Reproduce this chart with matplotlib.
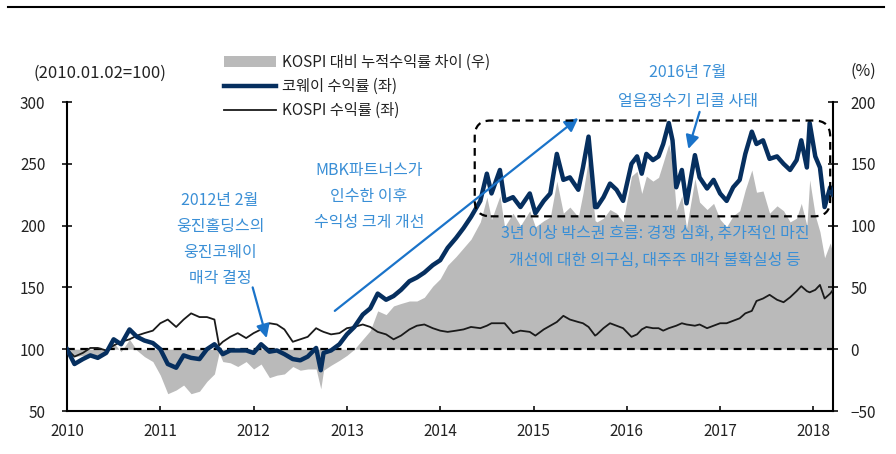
"""
Coway vs KOSPI cumulative return (2010.01.02 = 100)
"""
import matplotlib
matplotlib.use("Agg")
import numpy as np
import matplotlib.pyplot as plt
from matplotlib.lines import Line2D
from matplotlib.patches import FancyBboxPatch, Patch
from matplotlib.transforms import IdentityTransform

plt.rcParams['font.family'] = ['Noto Sans CJK KR', 'DejaVu Sans']
plt.rcParams['axes.unicode_minus'] = True

# decimal-year dates and index levels
dates = [
    2010.00, 2010.08, 2010.17, 2010.25, 2010.33, 2010.42, 2010.50, 2010.58, 2010.67, 2010.75, 2010.83, 2010.92,
    2011.00, 2011.08, 2011.17, 2011.25, 2011.33, 2011.42, 2011.50, 2011.58, 2011.63, 2011.67, 2011.75, 2011.83, 2011.92,
    2012.00, 2012.08, 2012.17, 2012.25, 2012.33, 2012.42, 2012.50, 2012.58, 2012.67, 2012.72, 2012.75, 2012.83, 2012.92,
    2013.00, 2013.08, 2013.17, 2013.25, 2013.33, 2013.42, 2013.50, 2013.58, 2013.67, 2013.75, 2013.83, 2013.92,
    2014.00, 2014.08, 2014.17, 2014.25, 2014.33, 2014.43, 2014.50, 2014.55, 2014.64, 2014.69, 2014.78, 2014.86, 2014.96,
    2015.02, 2015.11, 2015.18, 2015.25, 2015.32, 2015.39, 2015.48, 2015.53, 2015.59, 2015.66, 2015.68, 2015.75, 2015.82, 2015.89, 2015.96,
    2016.05, 2016.11, 2016.16, 2016.21, 2016.28, 2016.34, 2016.39, 2016.45, 2016.49, 2016.53, 2016.59, 2016.64, 2016.73, 2016.78, 2016.86, 2016.93,
    2017.00, 2017.07, 2017.14, 2017.21, 2017.27, 2017.34, 2017.39, 2017.46, 2017.53, 2017.61, 2017.68, 2017.75, 2017.82, 2017.87, 2017.93, 2017.96,
    2018.02, 2018.07, 2018.12, 2018.18, 2018.21,
]
coway = [
    100, 88, 92, 95, 93, 97, 108, 104, 116, 110, 107, 105,
    100, 88, 85, 95, 93, 92, 100, 104, 100, 96, 99, 99, 99,
    97, 104, 98, 99, 96, 92, 91, 94, 101, 83, 97, 99, 104,
    112, 118, 128, 133, 145, 140, 143, 148, 155, 158, 162, 168,
    172, 182, 190, 198, 207, 220, 242, 226, 245, 220, 223, 215, 226,
    210, 220, 226, 258, 237, 239, 229, 247, 272, 215, 215, 223, 234, 229, 220,
    250, 256, 242, 258, 253, 256, 266, 283, 269, 231, 245, 218, 257, 239, 230, 237,
    226, 220, 231, 237, 258, 276, 266, 269, 254, 256, 250, 245, 253, 269, 247, 283,
    256, 247, 215, 231, 225,
]
kospi = [
    100, 94, 97, 101, 101, 99, 103, 106, 108, 111, 113, 115,
    121, 124, 118, 124, 129, 126, 126, 124, 103, 106, 110, 113, 109,
    113, 116, 121, 120, 116, 106, 108, 110, 117, 115, 114, 112, 113,
    117, 118, 120, 118, 114, 112, 108, 111, 116, 119, 120, 117,
    115, 114, 115, 116, 118, 117, 119, 121, 121, 121, 113, 115, 114,
    111, 116, 119, 122, 127, 124, 122, 121, 118, 111, 112, 117, 121, 119, 117,
    110, 112, 116, 118, 117, 117, 115, 117, 118, 119, 121, 120, 119, 120, 117, 119,
    121, 121, 123, 125, 129, 131, 139, 141, 144, 140, 138, 142, 147, 151, 147, 146,
    148, 152, 141, 145, 148,
]
years = [2010, 2011, 2012, 2013, 2014, 2015, 2016, 2017, 2018]

dates = np.array(dates)
coway = np.array(coway)
kospi = np.array(kospi)
gap = coway - kospi  # %p gap vs KOSPI (right axis)

NAVY = '#062f5f'
GRAY = '#bababa'
BLUE_TXT = '#3a8fd6'
BLUE_ARR = '#1a73c9'

fig = plt.figure(figsize=(8.96, 4.54), dpi=100)
ax = fig.add_axes([67 / 896, 1 - 411 / 454, (833 - 67) / 896, (411 - 102) / 454])
ax2 = ax.twinx()
ax.set_zorder(ax2.get_zorder() + 1)
ax.patch.set_visible(False)

# gap area on the right axis
ax2.fill_between(dates, 0, gap, color=GRAY, lw=0)
ax2.set_ylim(-50, 200)
ax2.set_yticks([-50, 0, 50, 100, 150, 200])

ax.axhline(100, color='black', lw=1.6, ls=(0, (3.5, 2.5)), zorder=2)
ax.plot(dates, kospi, color='#1a1a1a', lw=1.3, zorder=3)
ax.plot(dates, coway, color=NAVY, lw=3.2, zorder=4)

ax.set_xlim(2010, 2018.21)
ax.set_ylim(50, 300)
ax.set_yticks([50, 100, 150, 200, 250, 300])
ax.set_xticks(years)
ax.set_xticklabels([str(y) for y in years])

for a in (ax, ax2):
    a.spines['top'].set_visible(False)
    for s in ('left', 'right', 'bottom'):
        a.spines[s].set_linewidth(1.5)
ax.spines['right'].set_visible(False)
ax2.spines['left'].set_visible(False)
ax2.spines['bottom'].set_visible(False)

ax.tick_params(axis='y', direction='inout', length=7, width=1.3, labelsize=11, pad=12, colors='#222222')
ax.tick_params(axis='x', direction='in', length=3.5, width=1.3, labelsize=11, pad=9, colors='#222222')
ax2.tick_params(axis='y', direction='inout', length=7, width=1.3, labelsize=11, pad=9, colors='#222222')

fig.text(33 / 896, 1 - 73 / 454, '(2010.01.02=100)', fontsize=12, va='center', ha='left', color='#222222')
fig.text(863 / 896, 1 - 71 / 454, '(%)', fontsize=11.5, va='center', ha='center', color='#222222')

# top rule
fig.add_artist(Line2D([8 / 896, 884 / 896], [1 - 7 / 454] * 2, color='black', lw=1.5))

handles = [
    Patch(facecolor=GRAY, edgecolor='none'),
    Line2D([], [], color=NAVY, lw=3.2),
    Line2D([], [], color='#1a1a1a', lw=1.3),
]
labels = ['KOSPI 대비 누적수익률 차이 (우)', '코웨이 수익률 (좌)', 'KOSPI 수익률 (좌)']
fig.legend(handles, labels, loc='upper left', bbox_to_anchor=(218 / 896, 1 - 48 / 454),
           frameon=False, fontsize=11, handlelength=3.4, handletextpad=0.4,
           labelspacing=0.45, borderaxespad=0, labelcolor='#222222')

# annotations
ann = dict(color=BLUE_TXT, fontsize=11.5, ha='center', va='center')
for i, t in enumerate(['2012년 2월', '웅진홀딩스의', '웅진코웨이', '매각 결정']):
    fig.text(220 / 896, 1 - (200 + 26.3 * i) / 454, t, **ann)
for i, t in enumerate(['MBK파트너스가', '인수한 이후', '수익성 크게 개선']):
    fig.text(369 / 896, 1 - (171 + 26 * i) / 454, t, **ann)
for i, t in enumerate(['2016년 7월', '얼음정수기 리콜 사태']):
    fig.text(688 / 896, 1 - (73 + 28 * i) / 454, t, **ann)
for i, t in enumerate(['3년 이상 박스권 흐름: 경쟁 심화, 추가적인 마진',
                       '개선에 대한 의구심, 대주주 매각 불확실성 등']):
    fig.text(655 / 896, 1 - (233 + 27 * i) / 454, t, **ann)

arrow = dict(arrowstyle='-|>', color=BLUE_ARR, lw=1.6, mutation_scale=20, shrinkA=0, shrinkB=0)
ax.annotate('', xy=(2012.14, 109), xytext=(2011.99, 150), arrowprops=arrow, zorder=6)
ax.annotate('', xy=(2015.48, 287), xytext=(2012.87, 131), arrowprops=arrow, zorder=6)
ax.annotate('', xy=(2016.66, 262), xytext=(2016.78, 292), arrowprops=arrow, zorder=6)

# dashed rounded box around the 2014-2018 range
fig.canvas.draw()
(x0, y0), (x1, y1) = ax.transData.transform([(2014.37, 207.5), (2018.18, 285)])
box = FancyBboxPatch((x0, y0), x1 - x0, y1 - y0, boxstyle='round,pad=0,rounding_size=16',
                     fill=False, ec='black', lw=1.6, ls=(0, (3.5, 2.5)),
                     transform=IdentityTransform(), zorder=7)
fig.add_artist(box)

fig.savefig('out.png', dpi=100)
